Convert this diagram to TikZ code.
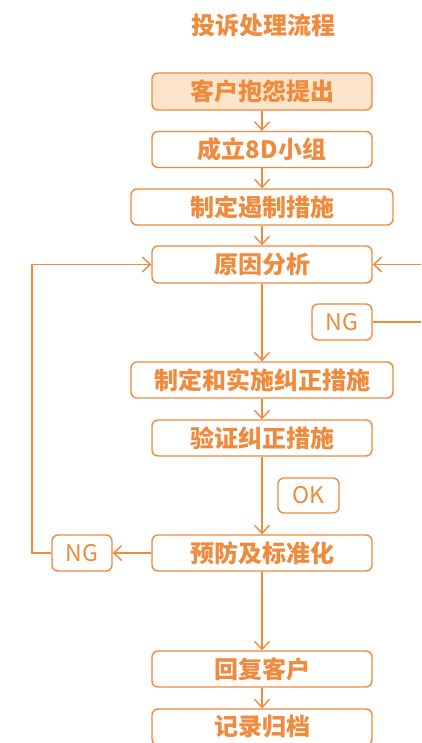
\documentclass[tikz,border=0pt]{standalone}
\usepackage{fontspec}
\newfontfamily\cjk{Noto Sans CJK SC}
\usetikzlibrary{arrows.meta}
\definecolor{org}{HTML}{F08A3C}
\definecolor{orgfill}{HTML}{FDE5CB}
\begin{document}
\begin{tikzpicture}[x=1pt,y=-1pt,
  box/.style={draw=org,line width=1.4pt,rounded corners=6pt,fill=white,inner sep=0pt,
    text=org,font=\cjk\bfseries\fontsize{24}{26}\selectfont},
  tag/.style={draw=org,line width=1.4pt,rounded corners=6pt,fill=white,inner sep=0pt,
    text=org,font=\cjk\fontsize{23}{25}\selectfont},
  arr/.style={draw=org,line width=1.4pt,-{Straight Barb[length=8pt,width=15pt]}},
  ln/.style={draw=org,line width=1.4pt}]
\useasboundingbox (0,0) rectangle (421,743);
\node[text=org,font=\cjk\bfseries\fontsize{24}{26}\selectfont] (title) at (263,25) {投诉处理流程};
\node[box,fill=orgfill,minimum width=220pt,minimum height=37pt] (b1) at (262,91.5) {客户抱怨提出};
\node[box,minimum width=220pt,minimum height=36pt] (b2) at (262,149.5) {成立8D小组};
\node[box,minimum width=262pt,minimum height=36pt] (b3) at (262,207) {制定遏制措施};
\node[box,minimum width=220pt,minimum height=37pt] (b4) at (262,264.5) {原因分析};
\node[tag,minimum width=60pt,minimum height=36pt] (ng1) at (342,322) {NG};
\node[box,minimum width=262pt,minimum height=36pt] (b5) at (262,380) {制定和实施纠正措施};
\node[box,minimum width=220pt,minimum height=36pt] (b6) at (262,438) {验证纠正措施};
\node[tag,minimum width=61pt,minimum height=35pt] (ok) at (308.5,495.5) {OK};
\node[box,minimum width=220pt,minimum height=36pt] (b7) at (262,553) {预防及标准化};
\node[tag,minimum width=60pt,minimum height=36pt] (ng2) at (82,553) {NG};
\node[box,minimum width=220pt,minimum height=36pt] (b8) at (262,669) {回复客户};
\node[box,minimum width=220pt,minimum height=36pt] (b9) at (262,727) {记录归档};
\coordinate (rin) at (421,264.5);
\coordinate (rng) at (421,322);
\coordinate (lc) at (32,553);
\coordinate (lt) at (32,264.5);
\draw[arr] (b1) -- (b2);
\draw[arr] (b2) -- (b3);
\draw[arr] (b3) -- (b4);
\draw[arr] (b4) -- (b5);
\draw[arr] (b5) -- (b6);
\draw[arr] (b6) -- (b7);
\draw[arr] (b7) -- (b8);
\draw[arr] (b8) -- (b9);
\draw[arr] (rin) -- (b4.east);
\draw[ln] (ng1.east) -- (rng);
\draw[arr] (b7.west) -- (ng2.east);
\draw[arr] (ng2.west) -- (lc) -- (lt) -- (b4.west);
\end{tikzpicture}
\end{document}
